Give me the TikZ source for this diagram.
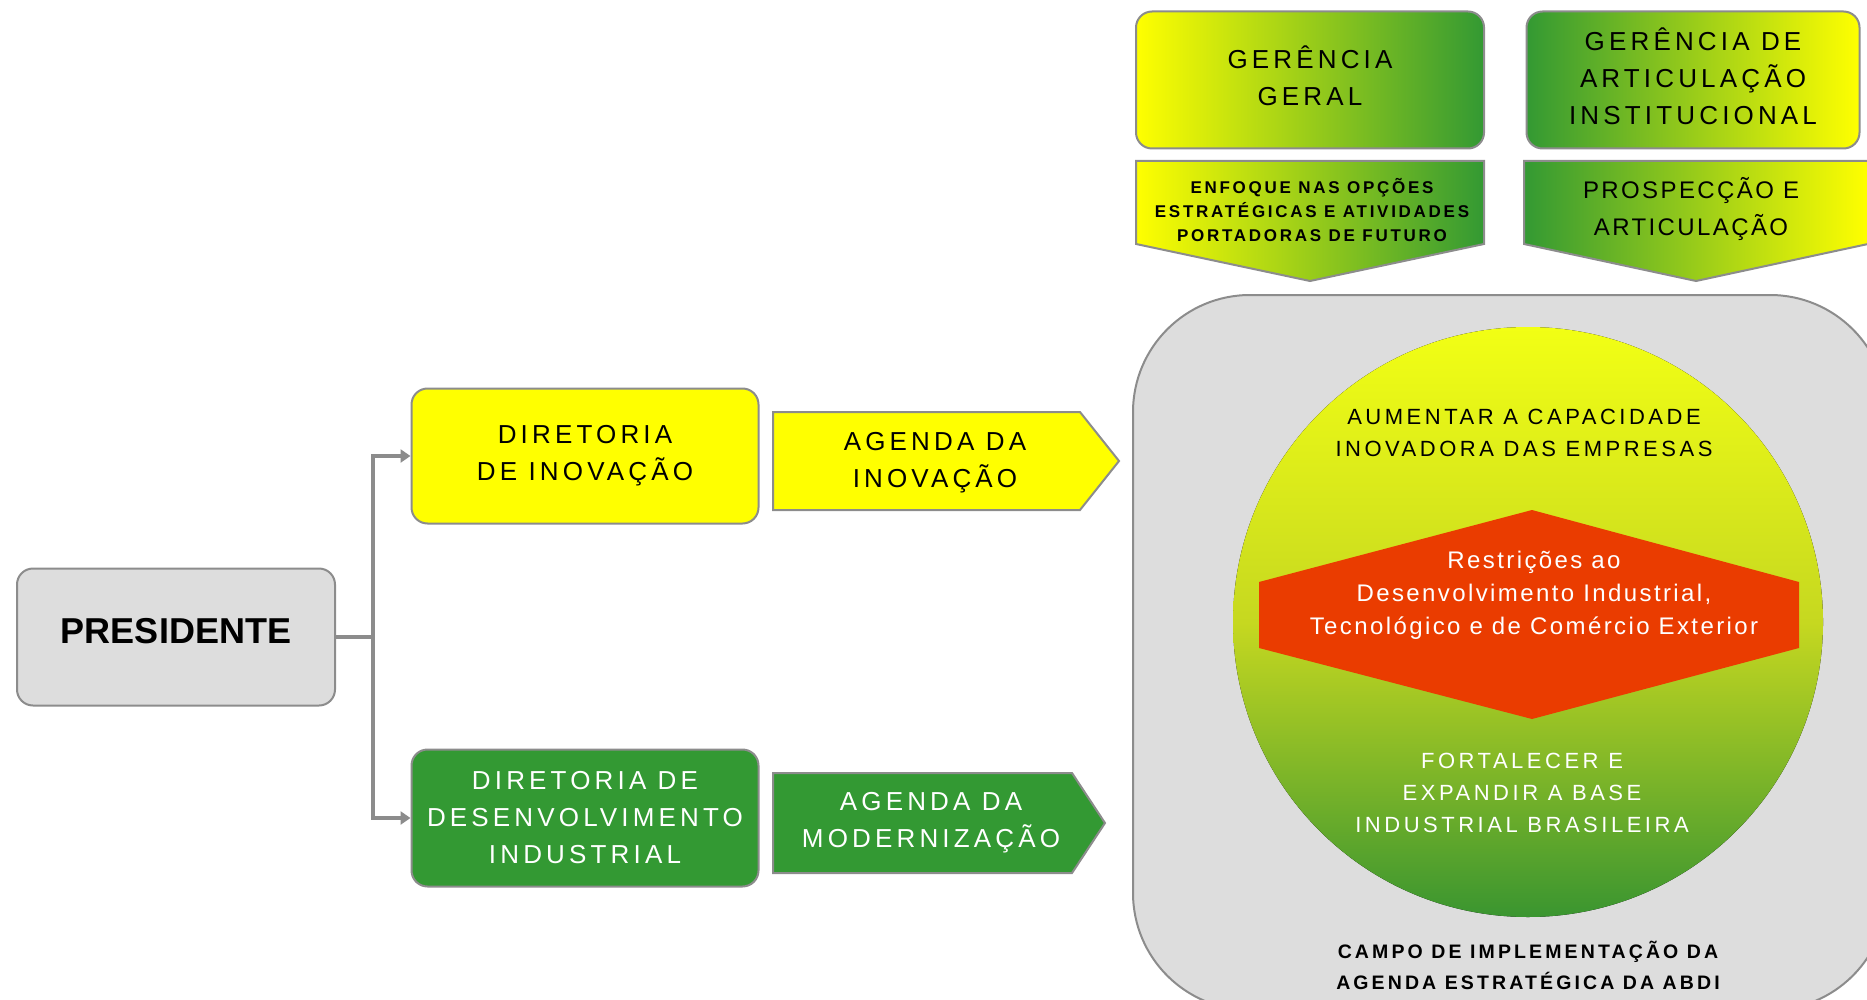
\documentclass[tikz,border=0pt]{standalone}
\usepackage{fontspec}
\setmainfont{Liberation Sans}
\newfontfamily\spaced[LetterSpace=16]{Liberation Sans}
\newfontfamily\slight[LetterSpace=10]{Liberation Sans}
\usetikzlibrary{positioning,calc,arrows.meta}

\definecolor{abdiyellow}{HTML}{FFFF00}
\definecolor{abdigreen}{HTML}{339933}
\definecolor{abdigray}{HTML}{DDDDDD}
\definecolor{abdiline}{HTML}{8C8C8C}
\definecolor{abdired}{HTML}{EA3C00}
\definecolor{circtop}{HTML}{F2FF14}
\definecolor{circmid}{HTML}{C6D820}
\definecolor{circbot}{HTML}{3A9530}

\begin{document}
\begin{tikzpicture}[x=1pt, y=-1pt,
    box/.style={draw=abdiline, line width=2pt, rounded corners=16pt, align=center, inner sep=0pt},
    caps/.style={font=\spaced\fontsize{26}{37}\selectfont, align=center},
    small/.style={font=\spaced\fontsize{22}{32}\selectfont, align=center},
    tiny/.style={font=\spaced\bfseries\fontsize{17}{24}\selectfont, align=center},
    link/.style={draw=abdiline, line width=4.5pt, -{Triangle[length=10pt,width=13pt]}}]
    \useasboundingbox (0,0) rectangle (1867,1000);
    \clip (0,0) rectangle (1867,1000);

    % left side: president and boards
    \node[box, fill=abdigray, minimum width=318pt, minimum height=137pt] (president) at (176,637)
        {\raisebox{12pt}{\fontsize{36}{40}\selectfont\bfseries PRESIDENTE}};
    \node[box, caps, fill=abdiyellow, minimum width=347pt, minimum height=135pt] (dirinov) at (585,456)
        {DIRETORIA\\DE INOVAÇÃO};
    \node[box, caps, fill=abdigreen, text=white, minimum width=347pt, minimum height=137pt] (dirind) at (585,818)
        {DIRETORIA DE\\DESENVOLVIMENTO\\INDUSTRIAL};

    \coordinate (fork) at (373,637);
    \draw[abdiline, line width=4.5pt] (president.east) -- (fork);
    \draw[link] (fork) |- (dirinov.west);
    \draw[link] (fork) |- (dirind.west);

    % agendas
    \draw[abdiline, line width=2pt, fill=abdiyellow] (773,412) -- (1080,412) -- (1119,461) -- (1080,510) -- (773,510) -- cycle;
    \node[caps] (aginov) at (935,463) {AGENDA DA\\INOVAÇÃO};
    \draw[abdiline, line width=2pt, fill=abdigreen] (773,773) -- (1072,773) -- (1105,823) -- (1072,873) -- (773,873) -- cycle;
    \node[caps, text=white] (agmod) at (931,823) {AGENDA DA\\MODERNIZAÇÃO};

    % top: managements
    \node[box, caps, left color=abdiyellow, right color=abdigreen, minimum width=348pt, minimum height=137pt] (gergeral) at (1310,80)
        {\raisebox{5pt}{\begin{tabular}{@{}c@{}}GERÊNCIA\\GERAL\end{tabular}}};
    \node[box, caps, left color=abdigreen, right color=abdiyellow, minimum width=333pt, minimum height=137pt] (gerart) at (1693,80)
        {\raisebox{2pt}{\begin{tabular}{@{}c@{}}GERÊNCIA DE\\ARTICULAÇÃO\\INSTITUCIONAL\end{tabular}}};

    \draw[abdiline, line width=2pt, left color=abdiyellow, right color=abdigreen] (1136,161) -- (1484,161) -- (1484,244) -- (1310,281) -- (1136,244) -- cycle;
    \node[tiny] (enfoque) at (1312,210) {ENFOQUE NAS OPÇÕES\\ESTRATÉGICAS E ATIVIDADES\\PORTADORAS DE FUTURO};
    \draw[abdiline, line width=2pt, left color=abdigreen, right color=abdiyellow] (1524,161) -- (1868,161) -- (1868,244) -- (1696,281) -- (1524,244) -- cycle;
    \node[font=\slight\fontsize{24}{37}\selectfont, align=center] (prosp) at (1691,209) {PROSPECÇÃO E\\ARTICULAÇÃO};

    % field of implementation
    \draw[abdiline, line width=2pt, fill=abdigray, rounded corners=117pt] (1133,295) rectangle (1887,1010);
    \fill[top color=circtop, bottom color=circbot, middle color=circmid] (1528,622) circle (295);
    \node[small] (aumentar) at (1524,433) {AUMENTAR A CAPACIDADE\\INOVADORA DAS EMPRESAS};
    \fill[abdired] (1532,510) -- (1799,582) -- (1799,648) -- (1532,719) -- (1259,648) -- (1259,582) -- cycle;
    \node[font=\slight\fontsize{24}{33}\selectfont, align=center, text=white] (restricoes) at (1534,595)
        {Restrições ao\\Desenvolvimento Industrial,\\Tecnológico e de Comércio Exterior};
    \node[small, text=white] (fortalecer) at (1522,793) {FORTALECER E\\EXPANDIR A BASE\\INDUSTRIAL BRASILEIRA};
    \node[font=\spaced\bfseries\fontsize{19.5}{31}\selectfont, align=center] (campo) at (1528,965)
        {CAMPO DE IMPLEMENTAÇÃO DA\\AGENDA ESTRATÉGICA DA ABDI};
\end{tikzpicture}
\end{document}
